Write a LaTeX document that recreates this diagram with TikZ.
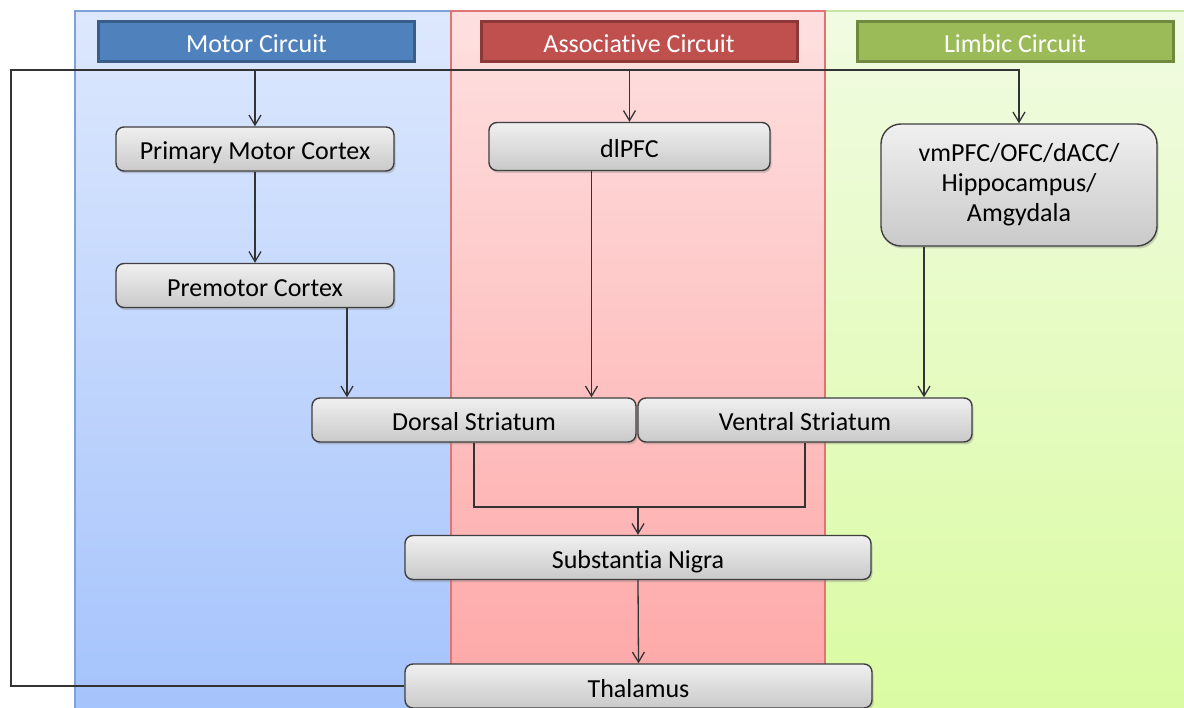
\documentclass[tikz,border=0pt]{standalone}
\usepackage{fontspec}
\setmainfont{Carlito}[Ligatures=NoCommon]
\usetikzlibrary{arrows.meta,shadows,calc}

\definecolor{lineC}{HTML}{333333}
\definecolor{boxB}{HTML}{3F3F3F}
\definecolor{motorTop}{HTML}{DDE8FD}
\definecolor{motorBot}{HTML}{A5C3FC}
\definecolor{motorEdge}{HTML}{7EA2DA}
\definecolor{assocTop}{HTML}{FEE0E0}
\definecolor{assocBot}{HTML}{FEA6A6}
\definecolor{assocEdge}{HTML}{E07474}
\definecolor{limbTop}{HTML}{F1FBE2}
\definecolor{limbBot}{HTML}{DAFBA2}
\definecolor{limbEdge}{HTML}{C9E2A6}
\definecolor{motorHead}{HTML}{4F81BD}
\definecolor{motorHeadB}{HTML}{385D8A}
\definecolor{assocHead}{HTML}{C0504D}
\definecolor{assocHeadB}{HTML}{8C3836}
\definecolor{limbHead}{HTML}{9BBB59}
\definecolor{limbHeadB}{HTML}{71893F}

\tikzset{
  every node/.style={font=\fontsize{26}{30}\selectfont},
  header/.style={draw=#1, line width=3pt, text=white, minimum height=40pt, minimum width=316pt, inner sep=0pt,
    text height=21pt, text depth=0.4pt},
  region/.style={inner sep=0pt, minimum height=44pt, rounded corners=8pt, draw=boxB, line width=1.4pt,
    top color=gray!12, bottom color=gray!42, text=black, text height=22pt, text depth=0pt,
    drop shadow={shadow xshift=1.5pt, shadow yshift=-2.5pt, opacity=0.35, fill=gray}},
  link/.style={draw=lineC, line width=1.3pt},
  arr/.style={link, -{Straight Barb[length=10pt,width=12pt,line width=1.3pt]}}
}

\begin{document}
\begin{tikzpicture}[x=1pt,y=-1pt]
\useasboundingbox (0,0) rectangle (1184,708);

% circuit panels
\shade[top color=motorTop, bottom color=motorBot] (75,11) rectangle (451,708);
\draw[motorEdge, line width=1.3pt] (75,708) -- (75,11) -- (451,11) -- (451,708);
\shade[top color=limbTop, bottom color=limbBot] (825,11) rectangle (1184,708);
\draw[limbEdge, line width=1.3pt] (825,708) -- (825,11) -- (1184,11);
\shade[top color=assocTop, bottom color=assocBot] (451,11) rectangle (825,708);
\draw[assocEdge, line width=1.3pt] (451,708) -- (451,11) -- (825,11) -- (825,708);

% circuit headers
\node[header=motorHeadB, fill=motorHead] (hm) at (256.5,42) {Motor Circuit};
\node[header=assocHeadB, fill=assocHead] (ha) at (639,42) {Associative Circuit};
\node[header=limbHeadB, fill=limbHead] (hl) at (1015,42) {Limbic Circuit};

% regions
\node[region, minimum width=278pt] (pmc) at (255,149) {Primary Motor Cortex};
\node[region, minimum width=278pt] (pm) at (255,285.5) {Premotor Cortex};
\node[region, minimum width=281pt, minimum height=48pt] (dl) at (629.5,146.5) {dlPFC};
\node[region, minimum width=276pt, minimum height=122pt, rounded corners=20pt, align=center,
  text height=, text depth=] (lim) at (1019,185)
  {vmPFC/OFC/dACC/\\Hippocampus/\\Amgydala};
\node[region, minimum width=324pt] (ds) at (474,420) {Dorsal Striatum};
\node[region, minimum width=334pt] (vs) at (805,420) {Ventral Striatum};
\node[region, minimum width=466pt] (sn) at (638,557.5) {Substantia Nigra};
\node[region, minimum width=467pt] (th) at (638.5,686) {Thalamus};

% feedback loop from the thalamus to every cortical group
\coordinate (loopTop) at (11,70);
\draw[arr] (th.west) -| (loopTop) -| (lim.north);
\draw[arr] (pmc.north |- loopTop) -- (pmc.north);
\draw[arr] (dl.north |- loopTop) -- (dl.north);

% cortical projections to the striatum
\draw[arr] (pmc.south) -- (pm.north);
\draw[arr] ([xshift=92pt]pm.south) coordinate (pmOut) -- (pmOut |- ds.north);
\draw[arr] ([xshift=-38pt]dl.south) coordinate (dlOut) -- (dlOut |- ds.north);
\draw[arr] ([xshift=-95pt]lim.south) coordinate (limOut) -- (limOut |- vs.north);

% striatum to substantia nigra to thalamus
\coordinate (merge) at (sn.north |- 0,507);
\draw[link] (ds.south) |- (merge) -| (vs.south);
\draw[arr] (merge) -- (sn.north);
\draw[arr] (sn.south) -- (th.north);
\end{tikzpicture}
\end{document}
